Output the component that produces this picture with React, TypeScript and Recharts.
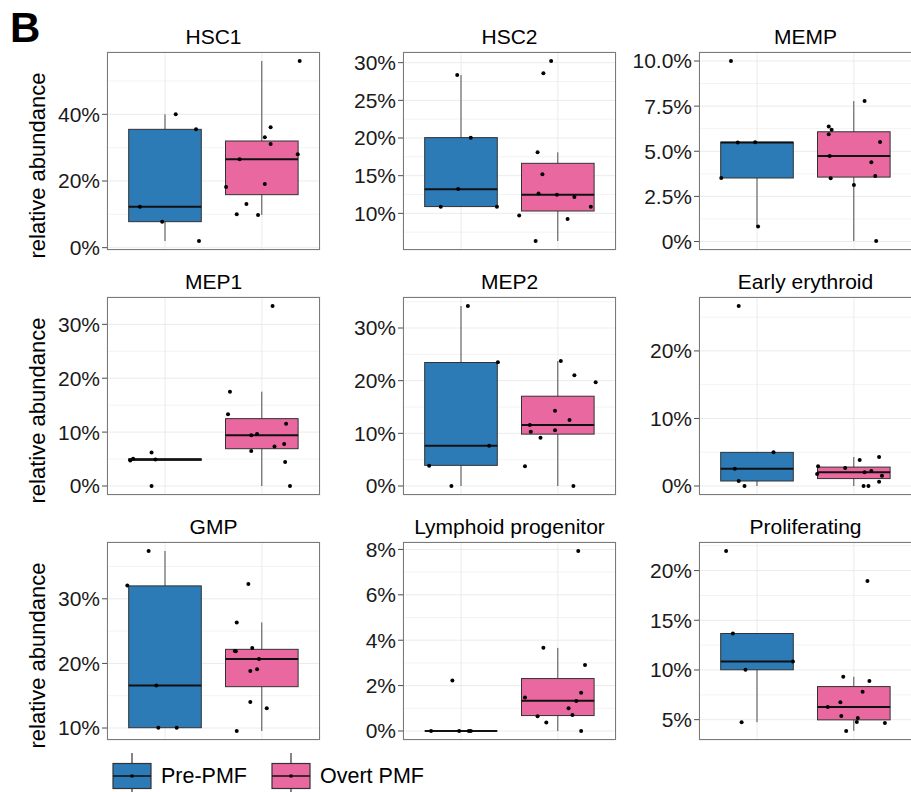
import React from 'react';
import { ComposedChart, Bar, Scatter, XAxis, YAxis, CartesianGrid } from 'recharts';

// Groups and their fills
const groups = ['Pre-PMF', 'Overt PMF'];
const groupFills = ['#2C7BB6', '#E9689F'];

// Box statistics per group: [lower whisker, Q1, median, Q3, upper whisker] (percent)
// Points: relative abundance (percent) with horizontal jitter offsets

// HSC1
const hsc1PreBox = [2.0, 7.8, 12.3, 35.5, 40.0];
const hsc1OvertBox = [9.8, 15.9, 26.5, 32.0, 56.0];
const hsc1PreY = [40.0, 35.5, 12.3, 7.8, 2.0];
const hsc1PreJit = [0.11, 0.32, -0.26, -0.03, 0.35];
const hsc1OvertY = [56.0, 36.1, 33.1, 31.1, 28.0, 26.5, 19.1, 18.2, 13.1, 10.0, 9.8];
const hsc1OvertJit = [0.39, 0.09, 0.03, 0.09, 0.37, -0.23, 0.03, -0.37, -0.16, -0.26, -0.04];
const hsc1Ticks = [0, 20, 40];
const hsc1Labels = ['0%', '20%', '40%'];

// HSC2
const hsc2PreBox = [10.9, 10.9, 13.2, 20.05, 28.36];
const hsc2OvertBox = [6.33, 10.31, 12.48, 16.64, 18.1];
const hsc2PreY = [28.36, 20.04, 13.23, 10.88, 10.88];
const hsc2PreJit = [-0.04, 0.1, -0.03, -0.21, 0.37];
const hsc2OvertY = [30.22, 28.58, 18.1, 15.18, 12.65, 12.48, 12.17, 10.88, 9.73, 9.25, 6.33];
const hsc2OvertJit = [-0.07, -0.15, -0.21, -0.16, -0.2, -0.01, 0.17, 0.34, -0.4, 0.1, -0.23];
const hsc2Ticks = [10, 15, 20, 25, 30];
const hsc2Labels = ['10%', '15%', '20%', '25%', '30%'];

// MEMP
const mempPreBox = [0.83, 3.52, 5.48, 5.5, 5.5];
const mempOvertBox = [0.03, 3.57, 4.74, 6.08, 7.78];
const mempPreY = [10.0, 5.48, 5.5, 3.52, 0.83];
const mempPreJit = [-0.27, -0.2, -0.02, -0.37, 0.01];
const mempOvertY = [7.78, 6.37, 6.19, 5.94, 5.52, 4.74, 4.39, 3.63, 3.5, 3.13, 0.03];
const mempOvertJit = [0.11, -0.26, -0.23, -0.26, 0.27, -0.25, 0.18, 0.22, -0.24, 0.0, 0.23];
const mempTicks = [0, 2.5, 5, 7.5, 10];
const mempLabels = ['0%', '2.5%', '5.0%', '7.5%', '10.0%'];

// MEP1
const mep1PreBox = [4.75, 4.75, 4.94, 5.06, 5.06];
const mep1OvertBox = [0.0, 6.92, 9.44, 12.5, 17.5];
const mep1PreY = [4.75, 5.06, 6.23, 4.94, 0.0];
const mep1PreJit = [-0.36, -0.33, -0.14, -0.1, -0.14];
const mep1OvertY = [33.4, 17.5, 13.33, 11.54, 9.63, 9.44, 7.78, 7.35, 6.48, 4.44, 0.0];
const mep1OvertJit = [0.11, -0.33, -0.35, 0.25, -0.05, -0.11, 0.23, 0.13, -0.11, 0.24, 0.29];
const mep1Ticks = [0, 10, 20, 30];
const mep1Labels = ['0%', '10%', '20%', '30%'];

// MEP2
const mep2PreBox = [0.0, 3.92, 7.66, 23.45, 34.18];
const mep2OvertBox = [0.0, 9.85, 11.58, 17.05, 23.73];
const mep2PreY = [34.18, 23.48, 7.66, 3.86, 0.0];
const mep2PreJit = [0.07, 0.38, 0.29, -0.33, -0.1];
const mep2OvertY = [23.73, 21.01, 19.68, 14.3, 12.53, 11.58, 10.32, 10.57, 9.18, 3.73, 0.0];
const mep2OvertJit = [0.03, 0.17, 0.39, -0.03, 0.12, -0.29, -0.28, -0.03, -0.18, -0.34, 0.16];
const mep2Ticks = [0, 10, 20, 30];
const mep2Labels = ['0%', '10%', '20%', '30%'];

// Early erythroid
const eryPreBox = [0.0, 0.74, 2.56, 4.98, 4.98];
const eryOvertBox = [0.0, 1.1, 2.05, 2.8, 4.29];
const eryPreY = [26.65, 4.98, 2.56, 0.74, 0.0];
const eryPreJit = [-0.19, 0.17, -0.23, -0.19, -0.13];
const eryOvertY = [4.29, 3.84, 2.91, 2.66, 2.22, 2.02, 1.77, 1.53, 0.64, 0.0, 0.0];
const eryOvertJit = [0.26, 0.06, -0.37, -0.09, 0.18, 0.11, -0.38, 0.29, 0.26, 0.1, 0.15];
const eryTicks = [0, 10, 20];
const eryLabels = ['0%', '10%', '20%'];

// GMP
const gmpPreBox = [10.05, 10.05, 16.58, 32.0, 37.4];
const gmpOvertBox = [9.54, 16.4, 20.69, 22.18, 26.35];
const gmpPreY = [37.4, 32.06, 16.58, 10.05, 10.05];
const gmpPreJit = [-0.17, -0.39, -0.09, -0.07, 0.12];
const gmpOvertY = [32.31, 26.35, 22.39, 21.93, 21.9, 20.69, 19.1, 18.84, 14.01, 13.08, 9.54];
const gmpOvertJit = [-0.14, -0.26, -0.1, -0.28, -0.27, -0.03, -0.05, -0.12, -0.12, 0.05, -0.26];
const gmpTicks = [10, 20, 30];
const gmpLabels = ['10%', '20%', '30%'];

// Lymphoid progenitor
const lymPreBox = [0, 0, 0, 0, 0];
const lymOvertBox = [0.0, 0.68, 1.33, 2.31, 3.66];
const lymPreY = [2.22, 0, 0, 0, 0];
const lymPreJit = [-0.09, -0.31, -0.02, 0.08, 0.1];
const lymOvertY = [7.93, 3.67, 2.91, 1.69, 1.48, 1.32, 1.0, 0.65, 0.7, 0.37, 0.0];
const lymOvertJit = [0.21, -0.15, 0.28, 0.24, -0.34, 0.19, 0.11, -0.21, 0.15, -0.12, 0.24];
const lymTicks = [0, 2, 4, 6, 8];
const lymLabels = ['0%', '2%', '4%', '6%', '8%'];

// Proliferating
const proPreBox = [4.75, 10.02, 10.86, 13.67, 13.67];
const proOvertBox = [3.88, 4.98, 6.27, 8.33, 9.32];
const proPreY = [21.97, 13.67, 10.86, 10.02, 4.73];
const proPreJit = [-0.32, -0.25, 0.37, -0.12, -0.16];
const proOvertY = [18.96, 9.32, 8.88, 7.81, 6.74, 6.27, 5.37, 5.17, 4.77, 4.67, 3.86];
const proOvertJit = [0.14, -0.11, 0.16, 0.09, -0.14, -0.27, -0.13, 0.04, 0.03, 0.32, -0.08];
const proTicks = [5, 10, 15, 20];
const proLabels = ['5%', '10%', '15%', '20%'];

type PanelSpec = {
  title: string;
  preBox: number[];
  overtBox: number[];
  preY: number[];
  preJit: number[];
  overtY: number[];
  overtJit: number[];
  ticks: number[];
  labels: string[];
};

const panels: PanelSpec[] = [
  { title: 'HSC1', preBox: hsc1PreBox, overtBox: hsc1OvertBox, preY: hsc1PreY, preJit: hsc1PreJit, overtY: hsc1OvertY, overtJit: hsc1OvertJit, ticks: hsc1Ticks, labels: hsc1Labels },
  { title: 'HSC2', preBox: hsc2PreBox, overtBox: hsc2OvertBox, preY: hsc2PreY, preJit: hsc2PreJit, overtY: hsc2OvertY, overtJit: hsc2OvertJit, ticks: hsc2Ticks, labels: hsc2Labels },
  { title: 'MEMP', preBox: mempPreBox, overtBox: mempOvertBox, preY: mempPreY, preJit: mempPreJit, overtY: mempOvertY, overtJit: mempOvertJit, ticks: mempTicks, labels: mempLabels },
  { title: 'MEP1', preBox: mep1PreBox, overtBox: mep1OvertBox, preY: mep1PreY, preJit: mep1PreJit, overtY: mep1OvertY, overtJit: mep1OvertJit, ticks: mep1Ticks, labels: mep1Labels },
  { title: 'MEP2', preBox: mep2PreBox, overtBox: mep2OvertBox, preY: mep2PreY, preJit: mep2PreJit, overtY: mep2OvertY, overtJit: mep2OvertJit, ticks: mep2Ticks, labels: mep2Labels },
  { title: 'Early erythroid', preBox: eryPreBox, overtBox: eryOvertBox, preY: eryPreY, preJit: eryPreJit, overtY: eryOvertY, overtJit: eryOvertJit, ticks: eryTicks, labels: eryLabels },
  { title: 'GMP', preBox: gmpPreBox, overtBox: gmpOvertBox, preY: gmpPreY, preJit: gmpPreJit, overtY: gmpOvertY, overtJit: gmpOvertJit, ticks: gmpTicks, labels: gmpLabels },
  { title: 'Lymphoid progenitor', preBox: lymPreBox, overtBox: lymOvertBox, preY: lymPreY, preJit: lymPreJit, overtY: lymOvertY, overtJit: lymOvertJit, ticks: lymTicks, labels: lymLabels },
  { title: 'Proliferating', preBox: proPreBox, overtBox: proOvertBox, preY: proPreY, preJit: proPreJit, overtY: proOvertY, overtJit: proOvertJit, ticks: proTicks, labels: proLabels },
];

// Layout
const FONT = "'Liberation Sans', Arial, Helvetica, sans-serif";
const COL_LEFT = [107, 403, 699];
const ROW_TOP = [52, 297, 542];
const PW = 213;
const PH = 198;
const Y_AXIS_W = 70;
const M_TOP = 12;
const M_RIGHT = 5;
const M_BOTTOM = 12;
const X_AXIS_H = 6;
const CAT_PAD = PW / 22; // discrete axis expansion (0.6 units of 2.2)
const BOX_W = (PW * 0.75) / 2.2;

const groupIndex = (props: any) => {
  const g = props?.payload?.group;
  const i = groups.indexOf(g);
  return i >= 0 ? i : props?.index ?? 0;
};

const WhiskerShape = (props: any) => {
  const { x, y, width, height } = props;
  const cx = x + width / 2;
  return <line x1={cx} x2={cx} y1={y} y2={y + height} stroke="#4d4d4d" strokeWidth={1} />;
};

const BoxShape = (props: any) => {
  const { x, y, width, height } = props;
  const i = groupIndex(props);
  return (
    <rect
      x={x}
      y={y}
      width={width}
      height={Math.max(height, 0)}
      fill={groupFills[i]}
      stroke="#333"
      strokeWidth={1}
    />
  );
};

const MedianShape = (props: any) => {
  const { x, y, width, height } = props;
  const my = y + height;
  return <line x1={x} x2={x + width} y1={my} y2={my} stroke="#111" strokeWidth={2} />;
};

const PointShape = (props: any) => <circle cx={props.cx} cy={props.cy} r={2} fill="#000" />;

function BoxPanel({ p, left, top }: { p: PanelSpec; left: number; top: number }) {
  const allY = [...p.preY, ...p.overtY, ...p.preBox, ...p.overtBox];
  const lo = Math.min(...allY);
  const hi = Math.max(...allY);
  const ext = (hi - lo) * 0.05;
  const domain: [number, number] = [lo - ext, hi + ext];
  const step = p.ticks[1] - p.ticks[0];
  const minor = [p.ticks[0] - step / 2, ...p.ticks.map((t) => t + step / 2)].filter(
    (v) => v > domain[0] && v < domain[1]
  );

  const rows = groups.map((g, i) => {
    const b = i === 0 ? p.preBox : p.overtBox;
    return { group: g, whisker: [b[0], b[4]], box: [b[1], b[3]], median: [b[2], b[3]] };
  });
  const points = [
    ...p.preY.map((y, i) => ({ x: 1 + p.preJit[i], y })),
    ...p.overtY.map((y, i) => ({ x: 2 + p.overtJit[i], y })),
  ];

  const catAxis = (id: string) => (
    <XAxis
      key={id}
      xAxisId={id}
      dataKey="group"
      type="category"
      hide
      padding={{ left: CAT_PAD, right: CAT_PAD }}
    />
  );

  return (
    <div style={{ position: 'absolute', left: left - Y_AXIS_W, top: top - M_TOP }}>
      <ComposedChart
        width={Y_AXIS_W + PW + M_RIGHT}
        height={M_TOP + PH + X_AXIS_H + M_BOTTOM}
        data={rows}
        margin={{ top: M_TOP, right: M_RIGHT, bottom: M_BOTTOM, left: 0 }}
        style={{ fontFamily: FONT }}
      >
        {catAxis('cw')}
        {catAxis('cb')}
        {catAxis('cm')}
        <XAxis
          xAxisId="num"
          dataKey="x"
          type="number"
          domain={[0.4, 2.6]}
          allowDataOverflow
          ticks={[1, 2]}
          interval={0}
          height={X_AXIS_H}
          axisLine={false}
          tickSize={4}
          tickLine={{ stroke: '#4d4d4d' }}
          tickFormatter={() => ''}
        />
        <YAxis
          type="number"
          domain={domain}
          allowDataOverflow
          ticks={p.ticks}
          interval={0}
          width={Y_AXIS_W}
          axisLine={false}
          tickSize={5}
          tickMargin={2}
          tickLine={{ stroke: '#4d4d4d' }}
          tick={{ fontSize: 21, fill: '#1a1a1a', fontFamily: FONT }}
          tickFormatter={(v: number) => {
            const k = p.ticks.indexOf(v);
            return k >= 0 ? p.labels[k] : '';
          }}
        />
        <YAxis yAxisId="minor" type="number" hide domain={domain} allowDataOverflow ticks={minor} interval={0} />
        <CartesianGrid yAxisId="minor" xAxisId="num" vertical={false} stroke="#f3f3f3" />
        <CartesianGrid xAxisId="num" stroke="#ebebeb" />
        <Bar xAxisId="cw" dataKey="whisker" barSize={BOX_W} shape={WhiskerShape} isAnimationActive={false} />
        <Bar xAxisId="cb" dataKey="box" barSize={BOX_W} shape={BoxShape} isAnimationActive={false} />
        <Bar xAxisId="cm" dataKey="median" barSize={BOX_W} shape={MedianShape} isAnimationActive={false} />
        <Scatter xAxisId="num" data={points} dataKey="y" shape={PointShape} isAnimationActive={false} />
      </ComposedChart>
    </div>
  );
}

function Overlay() {
  return (
    <svg
      width={911}
      height={792}
      style={{ position: 'absolute', left: 0, top: 0, pointerEvents: 'none', fontFamily: FONT }}
    >
      <text x={10} y={42} fontSize={42} fontWeight="bold" fill="#000">
        B
      </text>
      {panels.map((p, i) => {
        const left = COL_LEFT[i % 3];
        const top = ROW_TOP[Math.floor(i / 3)];
        return (
          <g key={p.title}>
            <text x={left + PW / 2} y={top - 8.5} fontSize={21} textAnchor="middle" fill="#000">
              {p.title}
            </text>
            <rect x={left + 0.5} y={top + 0.5} width={PW - 1} height={PH - 1} fill="none" stroke="#7a7a7a" strokeWidth={1} />
          </g>
        );
      })}
      {ROW_TOP.map((top) => (
        <text
          key={top}
          transform={`translate(45, ${top + PH / 2 + 14.5}) rotate(-90)`}
          fontSize={22}
          textAnchor="middle"
          fill="#000"
        >
          relative abundance
        </text>
      ))}
      {groups.map((g, i) => {
        const kx = 113 + i * 159;
        const kw = 38;
        const cx = kx + kw / 2;
        return (
          <g key={g}>
            <line x1={cx} x2={cx} y1={753} y2={792} stroke="#333" strokeWidth={1.2} />
            <rect x={kx} y={763.5} width={kw} height={25} fill={groupFills[i]} stroke="#333" strokeWidth={1.2} />
            <line x1={kx} x2={kx + kw} y1={776} y2={776} stroke="#111" strokeWidth={1.5} />
            <rect x={cx - 1.5} y={774.5} width={3} height={3} fill="#000" />
            <text x={kx + 48} y={783} fontSize={21.5} fill="#000">
              {g}
            </text>
          </g>
        );
      })}
    </svg>
  );
}

export default function App() {
  return (
    <div style={{ position: 'absolute', left: 0, top: 0, width: 911, height: 792, overflow: 'hidden', background: '#fff' }}>
      {panels.map((p, i) => (
        <BoxPanel key={p.title} p={p} left={COL_LEFT[i % 3]} top={ROW_TOP[Math.floor(i / 3)]} />
      ))}
      <Overlay />
    </div>
  );
}
